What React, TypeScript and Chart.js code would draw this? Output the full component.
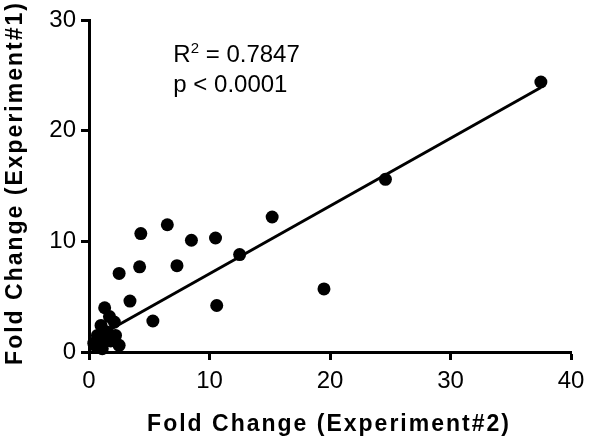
import React, { useEffect, useRef } from "react";
import { Chart, registerables } from "chart.js";

Chart.register(...registerables);

// Data
const expt2X = [37.5, 24.6, 15.2, 19.5, 12.5, 10.5, 10.6, 8.5, 6.5, 4.3, 4.2, 7.3, 2.5, 3.4, 5.3, 1.3, 1.7, 2.1, 1.0, 0.7, 0.4, 2.5, 2.2, 1.5, 1.1, 1.8, 0.6, 1.3, 0.9];
const expt1Y = [24.4, 15.6, 12.2, 5.7, 8.8, 10.3, 4.2, 10.1, 11.5, 10.7, 7.7, 7.8, 7.1, 4.6, 2.8, 4.0, 3.2, 2.7, 2.4, 1.5, 0.8, 0.6, 1.5, 1.8, 0.3, 1.0, 0.5, 1.2, 0.9];
const fitX = [0.4, 37.5];
const fitY = [1.2, 23.9];
const xRange = [0, 40];
const yRange = [0, 30];
const tickStep = 10;
const xTitle = "Fold Change (Experiment#2)";
const yTitle = "Fold Change (Experiment#1)";
const r2Value = "0.7847";
const pText = "p < 0.0001";
const annotAt = { x: 7.0, y1: 26.2, y2: 23.5 };

const FONT = "'Liberation Sans', Arial, sans-serif";

const textPlugin = {
  id: "textPlugin",
  afterDraw(chart: any) {
    const ctx = chart.ctx as CanvasRenderingContext2D;
    const area = chart.chartArea;
    const xs = chart.scales.x;
    const ys = chart.scales.y;
    ctx.save();
    ctx.fillStyle = "#000";
    // axis titles
    ctx.font = `bold 23px ${FONT}`;
    (ctx as any).letterSpacing = "2px";
    ctx.textAlign = "center";
    ctx.textBaseline = "alphabetic";
    ctx.fillText(xTitle, (area.left + area.right) / 2 - 1, chart.height - 5);
    ctx.save();
    ctx.translate(22, (area.top + area.bottom) / 2 - 3);
    ctx.rotate(-Math.PI / 2);
    ctx.fillText(yTitle, 0, 0);
    ctx.restore();
    (ctx as any).letterSpacing = "0px";
    // annotation
    const ax = xs.getPixelForValue(annotAt.x);
    const ay1 = ys.getPixelForValue(annotAt.y1);
    const ay2 = ys.getPixelForValue(annotAt.y2);
    ctx.textAlign = "left";
    ctx.font = `24px ${FONT}`;
    ctx.fillText("R", ax, ay1);
    let w = ctx.measureText("R").width;
    ctx.font = `15px ${FONT}`;
    ctx.fillText("2", ax + w, ay1 - 9);
    w += ctx.measureText("2").width;
    ctx.font = `24px ${FONT}`;
    ctx.fillText(" = " + r2Value, ax + w, ay1);
    ctx.fillText(pText, ax, ay2);
    ctx.restore();
  },
};

export default function App() {
  const ref = useRef<HTMLCanvasElement | null>(null);
  useEffect(() => {
    if (!ref.current) return;
    const chart = new Chart(ref.current, {
      type: "scatter",
      data: {
        datasets: [
          {
            label: "data",
            data: expt2X.map((x, i) => ({ x, y: expt1Y[i] })),
            backgroundColor: "#000",
            borderColor: "#000",
            borderWidth: 0,
            pointRadius: 6.5,
            clip: false as any,
          },
          {
            label: "fit",
            type: "line" as any,
            data: fitX.map((x, i) => ({ x, y: fitY[i] })),
            borderColor: "#000",
            borderWidth: 3,
            pointRadius: 0,
            fill: false,
            showLine: true,
          } as any,
        ],
      },
      options: {
        animation: false,
        responsive: false,
        devicePixelRatio: 1,
        layout: { padding: { top: 20, right: 29, left: 0, bottom: 0 } },
        plugins: { legend: { display: false }, tooltip: { enabled: false }, title: { display: false } },
        scales: {
          x: {
            type: "linear",
            min: xRange[0],
            max: xRange[1],
            ticks: { stepSize: tickStep, color: "#000", font: { family: FONT, size: 24 }, padding: 7 },
            grid: { drawOnChartArea: false, drawTicks: true, tickLength: 8, tickWidth: 3, tickColor: "#000" },
            border: { display: true, color: "#000", width: 3 },
            afterFit: (s: any) => { s.height = 84; },
          },
          y: {
            type: "linear",
            min: yRange[0],
            max: yRange[1],
            ticks: { stepSize: tickStep, color: "#000", font: { family: FONT, size: 24 }, padding: 5 },
            grid: { drawOnChartArea: false, drawTicks: true, tickLength: 8, tickWidth: 3, tickColor: "#000" },
            border: { display: true, color: "#000", width: 3 },
            afterFit: (s: any) => { s.width = 89; },
          },
        },
      },
      plugins: [textPlugin],
    });
    return () => chart.destroy();
  }, []);
  return (
    <div style={{ position: "fixed", left: 0, top: 0, width: 600, height: 436, background: "#fff" }}>
      <canvas ref={ref} width={600} height={436} style={{ width: 600, height: 436, display: "block" }} />
    </div>
  );
}
